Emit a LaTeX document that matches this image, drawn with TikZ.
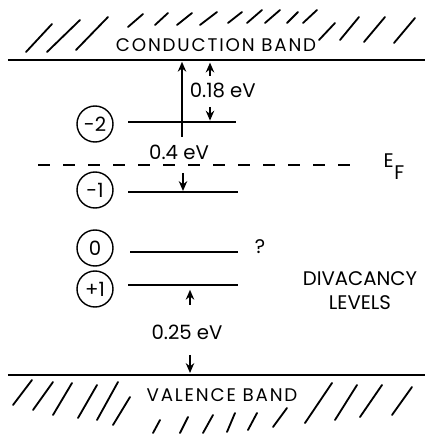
\documentclass[tikz,border=0pt]{standalone}
\usepackage{fontspec}
\setmainfont{Poppins}
\newfontfamily\bandfont[LetterSpace=10]{Poppins}
\usepackage{tikz}
\usetikzlibrary{arrows.meta}

\begin{document}
\begin{tikzpicture}[
  band/.style={line width=1.8pt},
  lvl/.style={line width=1.3pt},
  hatch/.style={line width=1.3pt,line cap=round},
  chg/.style={circle,draw,line width=1pt,minimum size=0.9cm,
              inner sep=0pt,font=\fontsize{14}{16}\selectfont},
  arr/.style={-{Stealth[length=7pt,width=6pt]},line width=1.2pt},
  lbl/.style={font=\fontsize{14}{17}\selectfont},
  bandlbl/.style={font=\bandfont\fontsize{13}{15}\selectfont}
]
\useasboundingbox (0,0) rectangle (10.625,10.875);

% Conduction band
\draw[band] (0.2,9.375) -- (10.625,9.375);
\node[bandlbl] (cbtxt) at (5.4,9.75) {CONDUCTION BAND};
\foreach \a/\b/\c/\d in {0.65/9.575/1.3/10.275, 1.175/9.575/2.0/10.375,
    1.9/9.625/2.7/10.45, 3.2/10.2/3.575/10.525, 3.875/10.25/4.2/10.55,
    4.425/10.25/4.8/10.55, 5.0/10.25/5.425/10.575, 5.7/10.3/6.05/10.575,
    6.175/10.3/6.55/10.625, 6.625/10.3/7.0/10.625, 7.175/10.3/7.45/10.575,
    7.575/10.3/7.925/10.625, 7.975/9.875/8.375/10.3, 8.5/9.875/8.975/10.45,
    9.1/9.825/9.625/10.45, 9.85/9.8/10.375/10.425}
  \draw[hatch] (\a,\b) -- (\c,\d);

% Valence band
\draw[band] (0.2,1.5) -- (10.625,1.5);
\node[bandlbl] (vbtxt) at (5.55,1.0) {VALENCE BAND};
\foreach \a/\b/\c/\d in {0.325/0.75/0.8/1.375, 0.825/0.625/1.325/1.325,
    1.325/0.5/1.8/1.3, 1.95/0.425/2.425/1.25, 2.425/0.375/2.95/1.325,
    2.825/0.25/3.25/0.95, 3.825/0.05/4.0/0.375, 4.5/0.05/4.7/0.45,
    5.075/0.05/5.325/0.5, 5.675/0.075/5.875/0.55, 6.2/0.125/6.425/0.55,
    6.825/0.2/7.175/0.675, 7.625/0.3/8.3/1.3, 8.375/0.375/8.925/1.25,
    9.0/0.45/9.55/1.25, 9.8/0.5/10.3/1.2}
  \draw[hatch] (\a,\b) -- (\c,\d);

% Fermi level
\draw[lvl,line width=1.5pt,dash pattern=on 0.3cm off 0.325cm] (0.95,6.75) -- (8.925,6.75);
\node[lbl] (ef) at (9.85,6.7) {E\kern0.5pt\raisebox{-1.1ex}{F}};

% Divacancy levels
\node[chg] (q2) at (2.375,7.775) {-2};
\node[chg] (q1) at (2.375,6.125) {-1};
\node[chg] (q0) at (2.375,4.675) {0};
\node[chg] (p1) at (2.375,3.65) {+1};
\draw[lvl] (3.2,7.825) -- (5.9,7.825);
\draw[lvl] (3.2,6.075) -- (5.95,6.075);
\draw[lvl] (3.25,4.575) -- (5.95,4.575);
\draw[lvl] (3.2,3.75) -- (5.95,3.75);
\node[lbl] (unk) at (6.5,4.7) {?};
\node[lbl,align=center] (divlbl) at (9.0,3.62) {DIVACANCY\\LEVELS};

% Energy gaps
\coordinate (cbA) at (4.55,9.33);
\coordinate (lA)  at (4.55,7.45);
\draw[arr] (lA) -- (cbA);
\node[lbl] (e04) at (4.475,7.07) {0.4 eV};
\coordinate (lB)  at (4.575,6.55);
\coordinate (q1B) at (4.575,6.1);
\draw[arr] (lB) -- (q1B);

\coordinate (uC)  at (5.25,8.98);
\coordinate (cbC) at (5.25,9.31);
\draw[arr] (uC) -- (cbC);
\node[lbl,anchor=west] (e018) at (4.62,8.625) {0.18 eV};
\coordinate (dC)  at (5.25,8.2);
\coordinate (q2C) at (5.25,7.86);
\draw[arr] (dC) -- (q2C);

\coordinate (uD)  at (4.75,3.25);
\coordinate (p1D) at (4.75,3.63);
\draw[arr] (uD) -- (p1D);
\node[lbl] (e025) at (4.675,2.575) {0.25 eV};
\coordinate (dD)  at (4.75,2.0);
\coordinate (vbD) at (4.75,1.55);
\draw[arr] (dD) -- (vbD);
\end{tikzpicture}
\end{document}
